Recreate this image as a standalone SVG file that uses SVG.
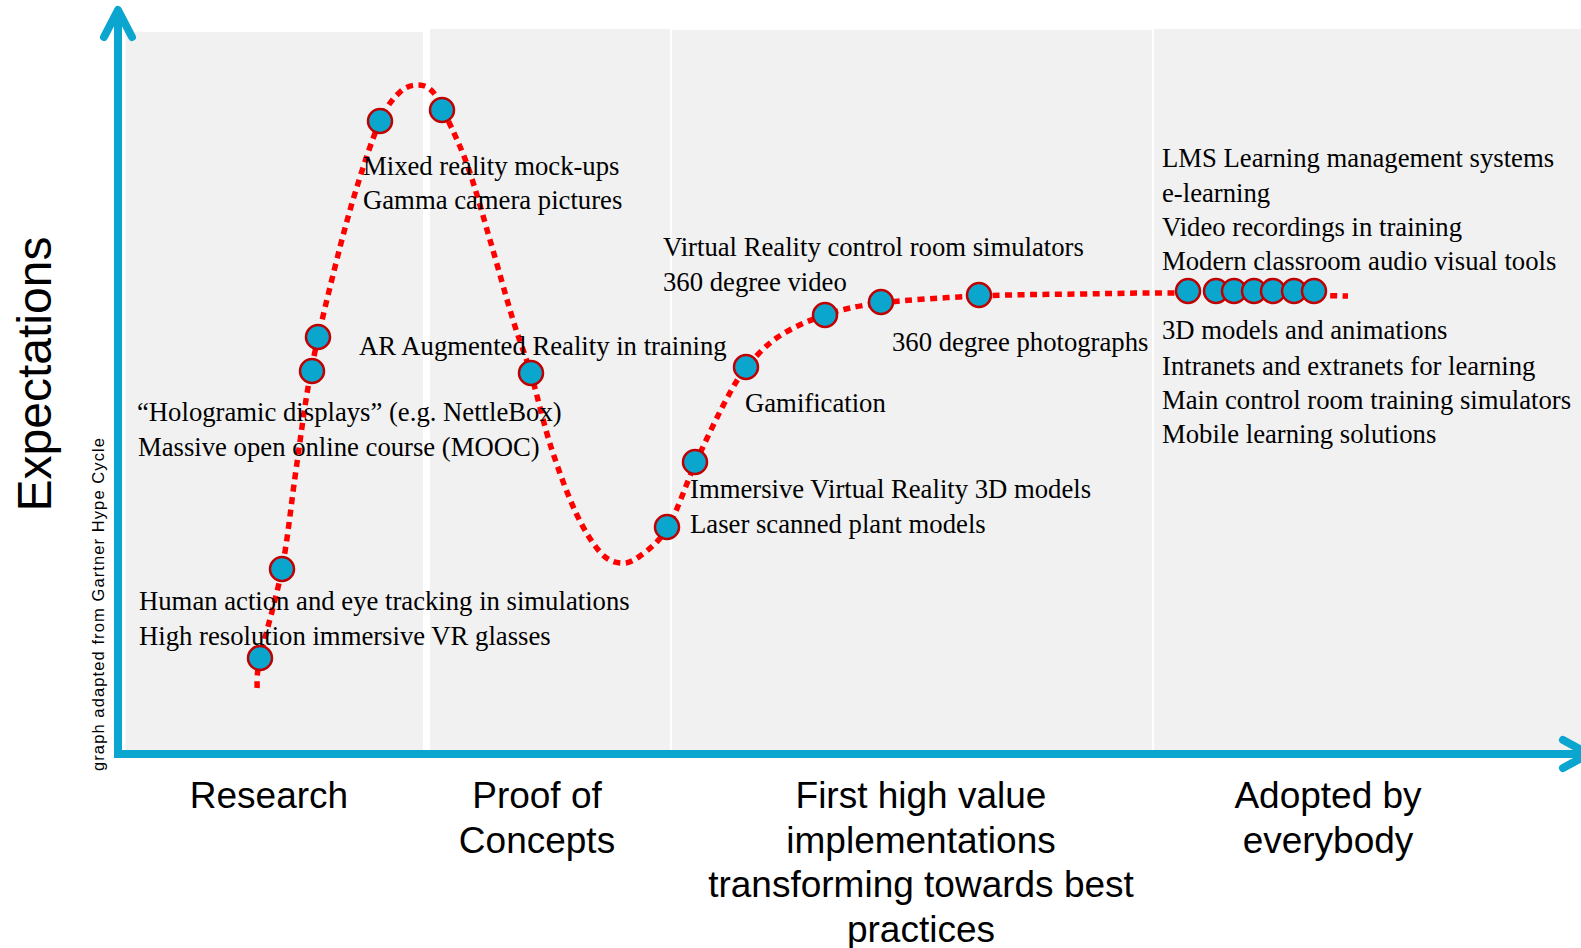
<svg xmlns="http://www.w3.org/2000/svg" width="1581" height="948" viewBox="0 0 1581 948">
  <defs>
    <style>
      .panel { fill: #F1F1F1; }
      .axis { fill: none; stroke: #0AA6CF; stroke-width: 8; stroke-linecap: round; stroke-linejoin: round; }
      .axis-line { fill: none; stroke: #0AA6CF; stroke-width: 8; }
      .curve { fill: none; stroke: #FF0000; stroke-width: 5.5; stroke-dasharray: 7 5.5; }
      .dot { fill: #0AA6CD; stroke: #C00000; stroke-width: 2.5; }
      .lbl { font-family: "Liberation Serif", "Times New Roman", serif; font-size: 26.7px; fill: #000; }
      .phase { font-family: "Liberation Sans", Arial, sans-serif; font-size: 37px; fill: #000; text-anchor: middle; }
      .ytitle { font-family: "Liberation Sans", Arial, sans-serif; font-size: 48px; fill: #000; text-anchor: middle; }
      .credit { font-family: "Liberation Sans", Arial, sans-serif; font-size: 16.5px; fill: #000; }
    </style>
  </defs>

  <rect width="1581" height="948" fill="#FFFFFF"/>

  <!-- phase background panels -->
  <g id="panels">
    <rect class="panel" x="125.5" y="32" width="297.5" height="720"/>
    <rect class="panel" x="430" y="29" width="240" height="723"/>
    <rect class="panel" x="672" y="30" width="480" height="722"/>
    <rect class="panel" x="1154" y="29" width="427" height="723"/>
  </g>

  <!-- axes -->
  <g id="axes">
    <line class="axis-line" x1="118" y1="12" x2="118" y2="757"/>
    <line class="axis-line" x1="114" y1="754" x2="1585" y2="754"/>
    <polyline class="axis" points="104,37 118,10 132,37"/>
    <polyline class="axis" points="1563,740 1589,754 1563,768"/>
  </g>

  <!-- axis titles -->
  <g id="axis-titles">
    <text class="ytitle" transform="translate(51,374) rotate(-90)">Expectations</text>
    <text class="credit" transform="translate(103.5,771) rotate(-90)" textLength="333" lengthAdjust="spacing">graph adapted from Gartner Hype Cycle</text>
  </g>

  <!-- hype curve -->
  <g id="connectors">
    <path class="curve" d="M257,688 C257.5,683 255.8,677.8 260,658 C264.2,638.2 276,600.3 282,569 C288,537.7 291.2,503 296,470 C300.8,437 304.5,404.8 311,371 C317.5,337.2 327.5,297.2 335,267 C342.5,236.8 348.5,214.3 356,190 C363.5,165.7 372.7,137.3 380,121 C387.3,104.7 393.7,98 400,92 C406.3,86 412.5,85 418,85 C423.5,85 428.2,86.5 433,92 C437.8,97.5 441.2,105.5 447,118 C452.8,130.5 460.8,146.7 468,167 C475.2,187.3 482.5,214.5 490,240 C497.5,265.5 506.2,297.7 513,320 C519.8,342.3 524.7,352.8 531,374 C537.3,395.2 543.5,423.8 551,447 C558.5,470.2 567.8,495.5 576,513 C584.2,530.5 592.7,543.7 600,552 C607.3,560.3 613.3,562.3 620,563 C626.7,563.7 632,562 640,556 C648,550 658.7,542.7 668,527 C677.3,511.3 686.3,483.2 696,462 C705.7,440.8 717.5,415.8 726,400 C734.5,384.2 738.3,377.5 747,367 C755.7,356.5 765,345.7 778,337 C791,328.3 807.8,320.7 825,315 C842.2,309.3 855.3,306.2 881,303 C906.7,299.8 945.8,297.5 979,296 C1012.2,294.5 1045.3,294.5 1080,294 C1114.7,293.5 1143.2,292.7 1187,293 C1230.8,293.3 1320,295.5 1348,296"/>
  </g>

  <!-- technology markers -->
  <g id="node-hr-vr-glasses"><circle class="dot" cx="260" cy="658" r="12"/></g>
  <g id="node-eye-tracking"><circle class="dot" cx="282" cy="569" r="12"/></g>
  <g id="node-mooc"><circle class="dot" cx="312" cy="371" r="12"/></g>
  <g id="node-holographic"><circle class="dot" cx="318" cy="337" r="12"/></g>
  <g id="node-mixed-reality"><circle class="dot" cx="380" cy="121" r="12"/></g>
  <g id="node-gamma-camera"><circle class="dot" cx="442" cy="110" r="12"/></g>
  <g id="node-ar-training"><circle class="dot" cx="531" cy="373" r="12"/></g>
  <g id="node-laser-scan"><circle class="dot" cx="667" cy="527" r="12"/></g>
  <g id="node-immersive-vr"><circle class="dot" cx="695" cy="462" r="12"/></g>
  <g id="node-gamification"><circle class="dot" cx="746" cy="367" r="12"/></g>
  <g id="node-vr-control-room"><circle class="dot" cx="825" cy="315" r="12"/></g>
  <g id="node-360-video"><circle class="dot" cx="881" cy="302" r="12"/></g>
  <g id="node-360-photos"><circle class="dot" cx="979" cy="295" r="12"/></g>
  <g id="node-adopted-cluster">
    <circle class="dot" cx="1188" cy="291" r="12"/>
    <circle class="dot" cx="1216" cy="291" r="12"/>
    <circle class="dot" cx="1234" cy="291" r="12"/>
    <circle class="dot" cx="1254" cy="291" r="12"/>
    <circle class="dot" cx="1273" cy="291" r="12"/>
    <circle class="dot" cx="1294" cy="291" r="12"/>
    <circle class="dot" cx="1314" cy="291" r="12"/>
  </g>

  <!-- technology labels -->
  <g id="labels-peak">
    <text class="lbl" x="363" y="175">Mixed reality mock-ups</text>
    <text class="lbl" x="363" y="209">Gamma camera pictures</text>
  </g>
  <g id="labels-ar">
    <text class="lbl" x="359" y="355">AR Augmented Reality in training</text>
  </g>
  <g id="labels-rising">
    <text class="lbl" x="137" y="421">“Hologramic displays” (e.g. NettleBox)</text>
    <text class="lbl" x="138" y="456">Massive open online course (MOOC)</text>
  </g>
  <g id="labels-trigger">
    <text class="lbl" x="139" y="610">Human action and eye tracking in simulations</text>
    <text class="lbl" x="139" y="645">High resolution immersive VR glasses</text>
  </g>
  <g id="labels-slope">
    <text class="lbl" x="663" y="256">Virtual Reality control room simulators</text>
    <text class="lbl" x="663" y="291">360 degree video</text>
    <text class="lbl" x="892" y="351">360 degree photographs</text>
    <text class="lbl" x="745" y="412">Gamification</text>
    <text class="lbl" x="690" y="498">Immersive Virtual Reality 3D models</text>
    <text class="lbl" x="690" y="533">Laser scanned plant models</text>
  </g>
  <g id="labels-plateau">
    <text class="lbl" x="1162" y="167">LMS Learning management systems</text>
    <text class="lbl" x="1162" y="202">e-learning</text>
    <text class="lbl" x="1162" y="236">Video recordings in training</text>
    <text class="lbl" x="1162" y="270">Modern classroom audio visual tools</text>
    <text class="lbl" x="1162" y="339">3D models and animations</text>
    <text class="lbl" x="1162" y="375">Intranets and extranets for learning</text>
    <text class="lbl" x="1162" y="409">Main control room training simulators</text>
    <text class="lbl" x="1162" y="443">Mobile learning solutions</text>
  </g>

  <!-- phase captions along the time axis -->
  <g id="phase-labels">
    <text class="phase" x="269" y="808">Research</text>
    <text class="phase" x="537" y="808">Proof of</text>
    <text class="phase" x="537" y="852.5">Concepts</text>
    <text class="phase" x="921" y="808">First high value</text>
    <text class="phase" x="921" y="852.5">implementations</text>
    <text class="phase" x="921" y="897">transforming towards best</text>
    <text class="phase" x="921" y="941.5">practices</text>
    <text class="phase" x="1328" y="808">Adopted by</text>
    <text class="phase" x="1328" y="852.5">everybody</text>
  </g>
</svg>
